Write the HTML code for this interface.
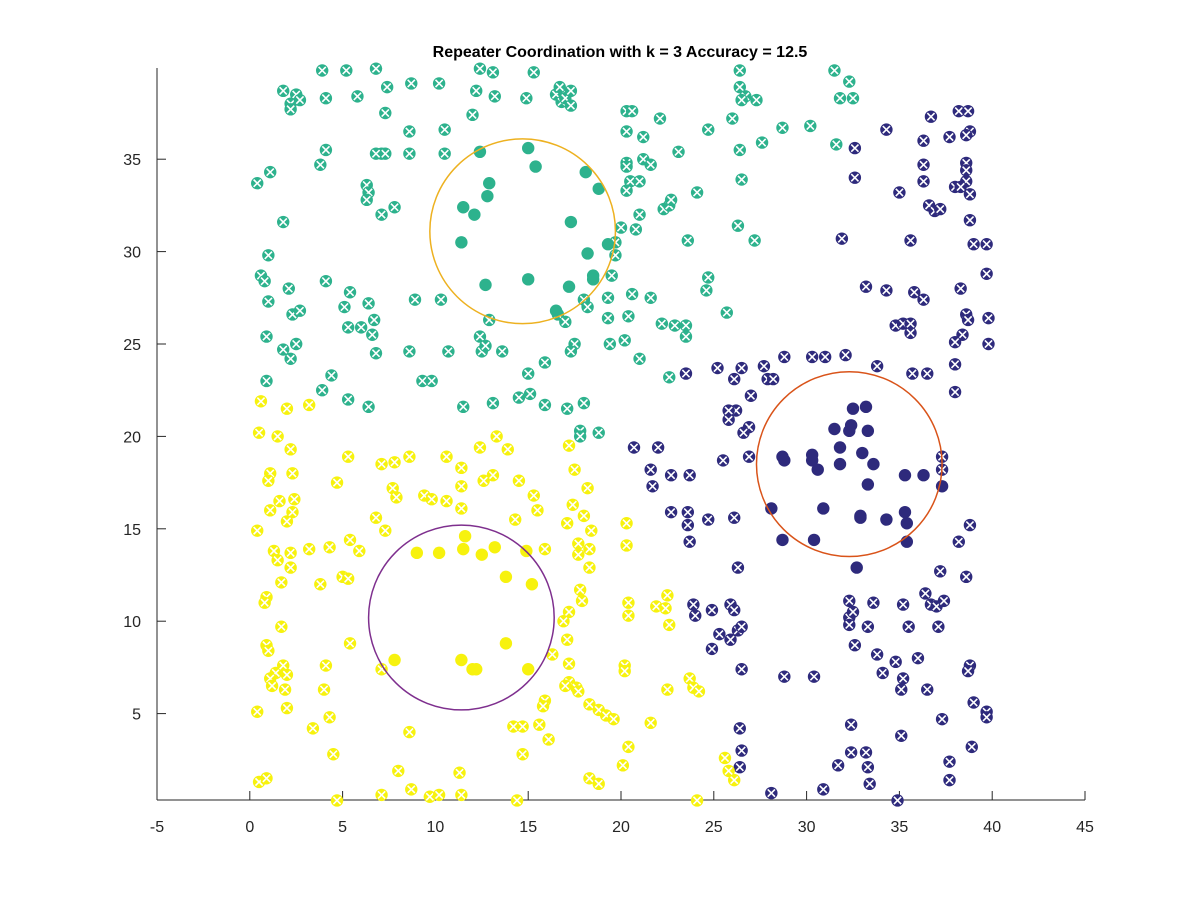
<!DOCTYPE html>
<html><head><meta charset="utf-8"><style>
body{margin:0;background:#fff;}
svg{display:block;font-family:"Liberation Sans",Arial,sans-serif;}
</style></head><body>
<svg id="chart" width="1200" height="900" viewBox="0 0 1200 900">
<rect width="1200" height="900" fill="#fff"/>
<text x="620" y="57" text-anchor="middle" font-size="16" font-weight="bold" fill="#000">Repeater Coordination with k = 3 Accuracy = 12.5</text>
<g id="axes"></g><g id="marks"></g>
</svg>
<script>
const xTicks=[-5,0,5,10,15,20,25,30,35,40,45];
const yTicks=[5,10,15,20,25,30,35];
const tealX=[[1.8,38.7],[2.5,38.5],[2.2,38.0],[2.7,38.2],[2.2,37.7],[3.9,39.8],[4.1,38.3],[5.2,39.8],[6.8,39.9],[5.8,38.4],[7.4,38.9],[8.7,39.1],[10.2,39.1],[12.4,39.9],[13.1,39.7],[13.2,38.4],[15.3,39.7],[14.9,38.3],[16.5,38.5],[16.8,38.1],[17.0,38.3],[17.3,38.7],[17.3,37.9],[16.7,38.9],[12.0,37.4],[7.3,37.5],[8.6,36.5],[8.6,35.3],[10.5,36.6],[10.5,35.3],[7.1,35.3],[7.3,35.3],[6.8,35.3],[4.1,35.5],[3.8,34.7],[6.3,33.6],[6.4,33.2],[6.3,32.8],[7.8,32.4],[7.1,32.0],[0.4,33.7],[1.1,34.3],[1.8,31.6],[1.0,29.8],[0.6,28.7],[0.8,28.4],[1.0,27.3],[2.1,28.0],[2.3,26.6],[2.7,26.8],[0.9,25.4],[1.8,24.7],[2.5,25.0],[2.2,24.2],[4.1,28.4],[5.4,27.8],[5.1,27.0],[6.4,27.2],[6.7,26.3],[5.3,25.9],[6.0,25.9],[6.6,25.5],[6.8,24.5],[8.6,24.6],[8.9,27.4],[10.3,27.4],[10.7,24.6],[12.9,26.3],[12.4,25.4],[12.5,24.6],[12.7,24.9],[13.6,24.6],[15.0,23.4],[11.5,21.6],[13.1,21.8],[14.5,22.1],[15.1,22.3],[15.9,21.7],[17.1,21.5],[18.0,21.8],[0.9,23.0],[3.9,22.5],[4.4,23.3],[5.3,22.0],[6.4,21.6],[9.3,23.0],[9.8,23.0],[16.6,26.6],[17.0,26.2],[17.5,25.0],[17.3,24.6],[15.9,24.0],[19.3,26.4],[20.4,26.5],[19.4,25.0],[20.2,25.2],[21.0,24.2],[22.6,23.2],[18.0,27.4],[18.2,27.0],[19.3,27.5],[20.6,27.7],[21.6,27.5],[22.2,26.1],[22.9,26.0],[23.5,26.0],[23.5,25.4],[24.6,27.9],[24.7,28.6],[25.7,26.7],[26.3,31.4],[23.6,30.6],[20.3,37.6],[20.6,37.6],[20.3,36.5],[21.2,36.2],[22.1,37.2],[20.3,34.8],[20.3,34.6],[20.5,33.8],[20.3,33.3],[21.2,35.0],[21.0,33.8],[22.3,32.3],[22.6,32.5],[22.7,32.8],[21.6,34.7],[23.1,35.4],[24.1,33.2],[24.7,36.6],[26.0,37.2],[26.4,39.8],[26.4,38.9],[26.7,38.4],[26.5,38.2],[27.3,38.2],[31.5,39.8],[31.8,38.3],[32.3,39.2],[32.5,38.3],[31.6,35.8],[30.2,36.8],[28.7,36.7],[27.6,35.9],[26.4,35.5],[26.5,33.9],[27.2,30.6],[20.0,31.3],[20.8,31.2],[19.7,30.5],[19.7,29.8],[19.5,28.7],[21.0,32.0],[17.8,20.3],[17.8,20.0],[18.8,20.2],[12.2,38.7]];
const tealFilled=[[12.4,35.4],[15.0,35.6],[15.4,34.6],[12.9,33.7],[12.8,33.0],[18.1,34.3],[18.8,33.4],[11.5,32.4],[12.1,32.0],[17.3,31.6],[19.3,30.4],[11.4,30.5],[18.2,29.9],[18.5,28.7],[18.5,28.5],[12.7,28.2],[15.0,28.5],[17.2,28.1],[16.5,26.8]];
const navyX=[[32.6,35.6],[34.3,36.6],[36.7,37.3],[38.2,37.6],[38.7,37.6],[38.8,36.5],[38.6,36.3],[37.7,36.2],[36.3,36.0],[36.3,34.7],[36.3,33.8],[35.0,33.2],[36.6,32.5],[36.9,32.2],[38.6,34.8],[38.6,34.4],[38.6,33.8],[38.0,33.5],[38.3,33.5],[38.8,33.1],[38.8,31.7],[39.0,30.4],[39.7,30.4],[39.7,28.8],[39.8,26.4],[39.8,25.0],[38.6,26.6],[38.7,26.3],[38.3,28.0],[38.4,25.5],[37.2,32.3],[32.6,34.0],[31.9,30.7],[35.6,30.6],[33.2,28.1],[34.3,27.9],[35.8,27.8],[36.3,27.4],[34.8,26.0],[35.2,26.1],[35.6,26.1],[35.6,25.6],[38.0,25.1],[38.0,23.9],[38.0,22.4],[35.7,23.4],[36.5,23.4],[33.8,23.8],[32.1,24.4],[31.0,24.3],[30.3,24.3],[28.8,24.3],[27.7,23.8],[26.5,23.7],[25.2,23.7],[23.5,23.4],[26.1,23.1],[27.9,23.1],[28.2,23.1],[27.0,22.2],[26.2,21.4],[25.8,21.4],[25.8,20.9],[26.9,20.5],[26.6,20.2],[26.9,18.9],[25.5,18.7],[23.7,17.9],[22.7,17.9],[21.6,18.2],[22.0,19.4],[20.7,19.4],[21.7,17.3],[22.7,15.9],[23.6,15.9],[23.6,15.2],[23.7,14.3],[24.7,15.5],[26.1,15.6],[26.3,12.9],[23.9,10.9],[24.0,10.3],[24.9,10.6],[25.3,9.3],[24.9,8.5],[25.9,10.9],[25.9,9.0],[26.3,9.5],[26.5,9.7],[26.1,10.6],[26.5,7.4],[28.8,7.0],[30.4,7.0],[32.3,11.1],[32.3,10.2],[32.3,9.8],[32.5,10.5],[32.6,8.7],[33.3,9.7],[33.6,11.0],[33.8,8.2],[34.8,7.8],[35.2,10.9],[35.5,9.7],[36.4,11.5],[36.7,10.9],[37.0,10.8],[37.4,11.1],[37.1,9.7],[37.2,12.7],[38.6,12.4],[38.8,15.2],[38.2,14.3],[36.0,8.0],[35.2,6.9],[35.1,6.3],[36.5,6.3],[38.8,7.6],[38.7,7.3],[39.0,5.6],[39.7,5.1],[39.7,4.8],[37.3,4.7],[35.1,3.8],[37.7,2.4],[37.7,1.4],[38.9,3.2],[32.4,4.4],[32.4,2.9],[33.2,2.9],[33.3,2.1],[31.7,2.2],[30.9,0.9],[33.4,1.2],[34.9,0.3],[26.4,4.2],[26.5,3.0],[26.4,2.1],[28.1,0.7],[34.1,7.2],[37.3,18.2],[37.3,18.9]];
const navyFilled=[[32.5,21.5],[33.2,21.6],[31.5,20.4],[32.4,20.6],[32.3,20.3],[33.3,20.3],[31.8,19.4],[33.0,19.1],[33.6,18.5],[28.7,18.9],[28.8,18.7],[30.3,19.0],[30.3,18.7],[30.6,18.2],[31.8,18.5],[37.3,17.3],[33.3,17.4],[35.3,17.9],[36.3,17.9],[28.1,16.1],[30.9,16.1],[32.9,15.7],[32.9,15.6],[34.3,15.5],[35.3,15.9],[35.4,15.3],[28.7,14.4],[30.4,14.4],[35.4,14.3],[32.7,12.9]];
const yellowX=[[0.6,21.9],[2.0,21.5],[3.2,21.7],[0.5,20.2],[1.5,20.0],[2.2,19.3],[1.1,18.0],[1.0,17.6],[2.3,18.0],[2.4,16.6],[1.6,16.5],[2.3,15.9],[2.0,15.4],[1.1,16.0],[0.4,14.9],[1.3,13.8],[1.5,13.3],[2.2,13.7],[2.2,12.9],[1.7,12.1],[0.9,11.3],[0.8,11.0],[1.7,9.7],[0.9,8.7],[1.0,8.4],[1.4,7.2],[1.1,6.9],[1.8,7.6],[2.0,7.1],[1.9,6.3],[2.0,5.3],[0.4,5.1],[1.2,6.5],[3.2,13.9],[4.3,14.0],[3.8,12.0],[5.0,12.4],[4.1,7.6],[4.0,6.3],[4.3,4.8],[3.4,4.2],[4.5,2.8],[0.5,1.3],[0.9,1.5],[4.7,0.3],[7.1,0.6],[8.0,1.9],[8.7,0.9],[9.7,0.5],[10.2,0.6],[11.4,0.6],[11.3,1.8],[14.4,0.3],[14.7,2.8],[14.2,4.3],[14.7,4.3],[15.6,4.4],[8.6,4.0],[7.1,7.4],[5.4,8.8],[5.3,12.3],[5.4,14.4],[4.7,17.5],[5.3,18.9],[7.1,18.5],[7.7,17.2],[7.9,16.7],[6.8,15.6],[5.9,13.8],[7.3,14.9],[9.4,16.8],[9.8,16.6],[10.6,16.5],[11.4,17.3],[11.4,16.1],[10.6,18.9],[8.6,18.9],[7.8,18.6],[11.4,18.3],[12.4,19.4],[13.3,20.0],[13.9,19.3],[13.1,17.9],[12.6,17.6],[14.5,17.6],[15.3,16.8],[15.5,16.0],[14.3,15.5],[15.9,13.9],[17.7,14.2],[17.7,13.6],[17.1,15.3],[17.4,16.3],[17.5,18.2],[17.2,19.5],[18.2,17.2],[18.0,15.7],[18.4,14.9],[18.3,13.9],[18.3,12.9],[17.8,11.7],[17.9,11.1],[17.2,10.5],[16.9,10.0],[17.1,9.0],[16.3,8.2],[17.2,7.7],[17.2,6.7],[17.6,6.4],[17.0,6.5],[15.9,5.7],[15.8,5.4],[17.7,6.2],[18.3,5.5],[18.8,5.2],[19.2,4.9],[19.6,4.7],[20.4,3.2],[20.1,2.2],[18.3,1.5],[18.8,1.2],[16.1,3.6],[20.3,15.3],[20.3,14.1],[20.4,11.0],[20.4,10.3],[20.2,7.6],[20.2,7.3],[21.6,4.5],[21.9,10.8],[22.4,10.7],[22.5,11.4],[22.6,9.8],[22.5,6.3],[23.7,6.9],[23.9,6.4],[24.2,6.2],[25.6,2.6],[26.1,1.4],[25.8,1.9],[24.1,0.3]];
const yellowFilled=[[11.6,14.6],[13.2,14.0],[9.0,13.7],[10.2,13.7],[11.5,13.9],[12.5,13.6],[14.9,13.8],[13.8,12.4],[15.2,12.0],[13.8,8.8],[7.8,7.9],[11.4,7.9],[12.0,7.4],[12.2,7.4],[15.0,7.4]];
const centroids=[[14.7,31.1],[32.3,18.5],[11.4,10.2]];
const radii=[5.0,5.0,5.0];

const X=v=>249.8+v*18.56, Y=v=>806-v*18.48;
const NS="http://www.w3.org/2000/svg";
function mk(tag,attrs,parent){const e=document.createElementNS(NS,tag);for(const k in attrs)e.setAttribute(k,attrs[k]);parent.appendChild(e);return e;}
const axes=document.getElementById('axes'), marks=document.getElementById('marks');
const ax=mk('line',{x1:157,y1:800,x2:1085,y2:800,stroke:'#262626','stroke-width':1},axes);


const ay=mk('line',{x1:157,y1:800,x2:157,y2:68,stroke:'#262626','stroke-width':1},axes);


xTicks.forEach(t=>{
  mk('line',{x1:X(t),y1:800,x2:X(t),y2:791,stroke:'#262626'},axes);
  const tx=mk('text',{x:X(t),y:832,'text-anchor':'middle','font-size':16,fill:'#262626'},axes);tx.textContent=t;
  
  
});
yTicks.forEach(t=>{
  mk('line',{x1:157,y1:Y(t),x2:166,y2:Y(t),stroke:'#262626'},axes);
  const tx=mk('text',{x:141,y:Y(t)+6,'text-anchor':'end','font-size':16,fill:'#262626'},axes);tx.textContent=t;
  
  
});
function drawPts(arr,color,crossed,name){
  arr.forEach(p=>{
    const g=mk('g',{},marks);
    
    
    const cx=X(p[0]),cy=Y(p[1]);
    mk('circle',{cx:cx,cy:cy,r:6.2,fill:color},g);
    if(crossed){const d=3.6;
      mk('path',{d:`M${cx-d},${cy-d}L${cx+d},${cy+d}M${cx-d},${cy+d}L${cx+d},${cy-d}`,stroke:'#fff','stroke-width':1.6},g);}
  });
}
const tealC='#2db28d', navyC='#2e2a7c', yelC='#f7f20e';
drawPts(tealX,tealC,true,'teal-point');
drawPts(navyX,navyC,true,'navy-point');
drawPts(yellowX,yelC,true,'yellow-point');
drawPts(tealFilled,tealC,false,'teal-repeater');
drawPts(navyFilled,navyC,false,'navy-repeater');
drawPts(yellowFilled,yelC,false,'yellow-repeater');
const circCols=['#edb120','#d95319','#7e2f8e'];
centroids.forEach((c,i)=>{
  const e=mk('ellipse',{cx:X(c[0]),cy:Y(c[1]),rx:radii[i]*18.56,ry:radii[i]*18.48,fill:'none',stroke:circCols[i],'stroke-width':1.5},marks);
  
  
});
</script>
</body></html>
